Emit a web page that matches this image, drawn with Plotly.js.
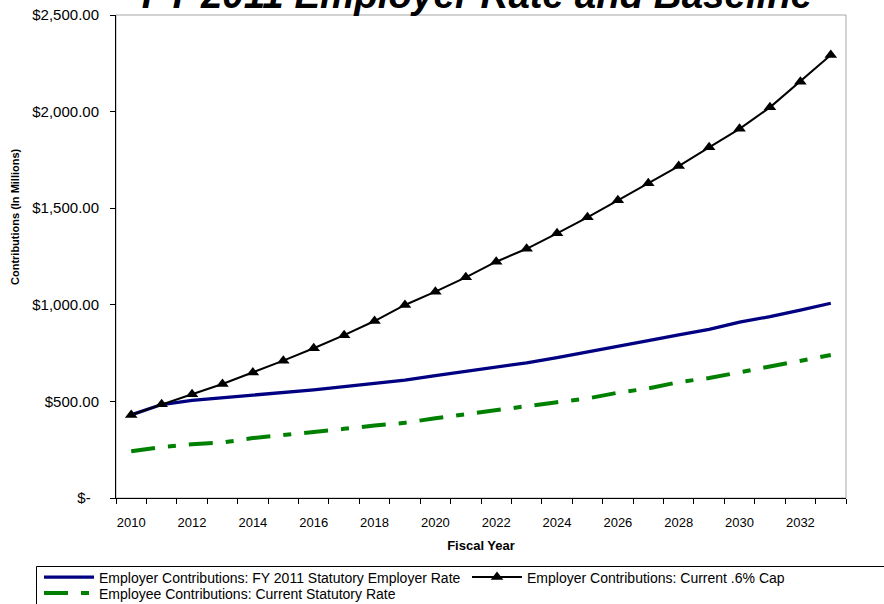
<!DOCTYPE html>
<html>
<head>
<meta charset="utf-8">
<script src="https://cdn.plot.ly/plotly-3.0.1.min.js"></script>
<style>
html, body { margin: 0; padding: 0; background: #ffffff; }
#chart { width: 884px; height: 604px; }
</style>
</head>
<body>
<div id="chart"></div>
<script>
// Fiscal years (categories)
var years = [2010, 2011, 2012, 2013, 2014, 2015, 2016, 2017, 2018, 2019, 2020, 2021,
             2022, 2023, 2024, 2025, 2026, 2027, 2028, 2029, 2030, 2031, 2032, 2033];

// Employer Contributions: FY 2011 Statutory Employer Rate ($ millions)
var employerStatutory = [430, 484, 505, 518, 530, 545, 560, 576, 592, 610, 633, 654,
                         676, 700, 726, 754, 783, 814, 844, 873, 910, 939, 973, 1008];

// Employer Contributions: Current .6% Cap ($ millions)
var employerCap = [430, 485, 537, 590, 649, 711, 775, 843, 916, 999, 1068, 1142,
                   1223, 1290, 1370, 1453, 1541, 1629, 1718, 1815, 1911, 2022, 2155, 2293];

// Employee Contributions: Current Statutory Rate ($ millions)
var employeeStatutory = [242, 263, 278, 287, 310, 325, 339, 358, 375, 389, 413, 434,
                         455, 479, 496, 515, 545, 567, 600, 621, 652, 683, 711, 740];

// Axis labels
var xTickVals = [2010, 2012, 2014, 2016, 2018, 2020, 2022, 2024, 2026, 2028, 2030, 2032];
var yTickVals = [0, 500, 1000, 1500, 2000, 2500];
var yTickText = ["$-\u00a0\u00a0", "$500.00", "$1,000.00", "$1,500.00", "$2,000.00", "$2,500.00"];

var seriesNames = [
  "Employer Contributions: FY 2011 Statutory Employer Rate",
  "Employer Contributions: Current .6% Cap",
  "Employee Contributions: Current Statutory Rate"
];
var chartTitle = "FY 2011 Employer Rate and Baseline";
var xTitle = "Fiscal Year";
var yTitle = "Contributions (In Millions)";

var FONT = "Liberation Sans, Arial, sans-serif";

var traces = [
  {
    x: years, y: employeeStatutory, name: seriesNames[2], type: "scatter", mode: "lines",
    line: { color: "#008000", width: 4, dash: "24px,13px,8px,13px" },
    legend: "legend3"
  },
  {
    x: years, y: employerStatutory, name: seriesNames[0], type: "scatter", mode: "lines",
    line: { color: "#000080", width: 3.3 },
    legend: "legend"
  },
  {
    x: years, y: employerCap, name: seriesNames[1], type: "scatter", mode: "lines+markers",
    line: { color: "#000000", width: 2 },
    marker: { symbol: "triangle-up", size: 11, color: "#000000" },
    legend: "legend2"
  }
];

// plot area: x 116..846, y 15..498 (px)
var PL = 116, PW = 730, PB = 498, PH = 483;
function px2x(p) { return (p - PL) / PW; }
function px2y(p) { return (PB - p) / PH; }

function legendAt(xpx, ypx) {
  return {
    orientation: "h",
    x: px2x(xpx), xanchor: "left",
    y: px2y(ypx), yanchor: "top",
    bgcolor: "rgba(0,0,0,0)", borderwidth: 0,
    font: { family: FONT, size: 14, color: "#000000" },
    itemwidth: 50
  };
}

var layout = {
  width: 884, height: 604,
  margin: { l: 116, r: 38, t: 15, b: 106, autoexpand: false },
  paper_bgcolor: "#ffffff", plot_bgcolor: "#ffffff",
  font: { family: FONT, color: "#000000", size: 13 },
  title: {
    text: chartTitle,
    font: { family: FONT, size: 38.5, weight: "bold", style: "italic", color: "#000000" },
    xref: "paper", x: px2x(477), xanchor: "center",
    yref: "paper", y: 1, yanchor: "bottom", pad: { b: 7, t: 0 }
  },
  xaxis: {
    type: "linear", range: [2009.5, 2033.5], fixedrange: true,
    showgrid: false, zeroline: false,
    showline: true, linecolor: "#000000", linewidth: 1,
    tickmode: "array", tickvals: xTickVals, ticktext: xTickVals.map(String),
    ticks: "", ticklabelstandoff: 12,
    tickfont: { family: FONT, size: 13, color: "#000000" },
    minor: { ticks: "outside", tick0: 2009.5, dtick: 1, ticklen: 5, tickwidth: 1, tickcolor: "#000000", showgrid: false },
    title: { text: xTitle, font: { family: FONT, size: 13, weight: "bold", color: "#000000" }, standoff: 12 }
  },
  yaxis: {
    range: [0, 2500], fixedrange: true,
    showgrid: false, zeroline: false,
    showline: true, linecolor: "#000000", linewidth: 1,
    tickmode: "array", tickvals: yTickVals, ticktext: yTickText,
    ticks: "outside", ticklen: 5, tickwidth: 1, tickcolor: "#000000", ticklabelstandoff: 8,
    tickfont: { family: FONT, size: 15, color: "#000000" }
  },
  annotations: [
    { text: yTitle, xref: "paper", yref: "paper", x: px2x(15), y: px2y(217),
      xanchor: "center", yanchor: "middle", textangle: -90, showarrow: false,
      font: { family: FONT, size: 11, weight: "bold", color: "#000000" } }
  ],
  shapes: [
    { type: "rect", xref: "paper", yref: "paper", x0: 0, x1: 1, y0: 0, y1: 1,
      line: { color: "#a6a6a6", width: 1 }, fillcolor: "rgba(0,0,0,0)", layer: "below" },
    // legend frame (top and left edges; the box runs off the picture's right and bottom)
    { type: "line", xref: "paper", yref: "paper", x0: px2x(36.5), x1: px2x(890), y0: px2y(566.5), y1: px2y(566.5),
      line: { color: "#000000", width: 1 } },
    { type: "line", xref: "paper", yref: "paper", x0: px2x(36.5), x1: px2x(36.5), y0: px2y(566.5), y1: px2y(610),
      line: { color: "#000000", width: 1 } }
  ],
  showlegend: true,
  legend: legendAt(39, 561.5),
  legend2: legendAt(467, 561.5),
  legend3: legendAt(39, 577.5)
};

Plotly.newPlot("chart", traces, layout, { displayModeBar: false, staticPlot: true });
</script>
</body>
</html>
